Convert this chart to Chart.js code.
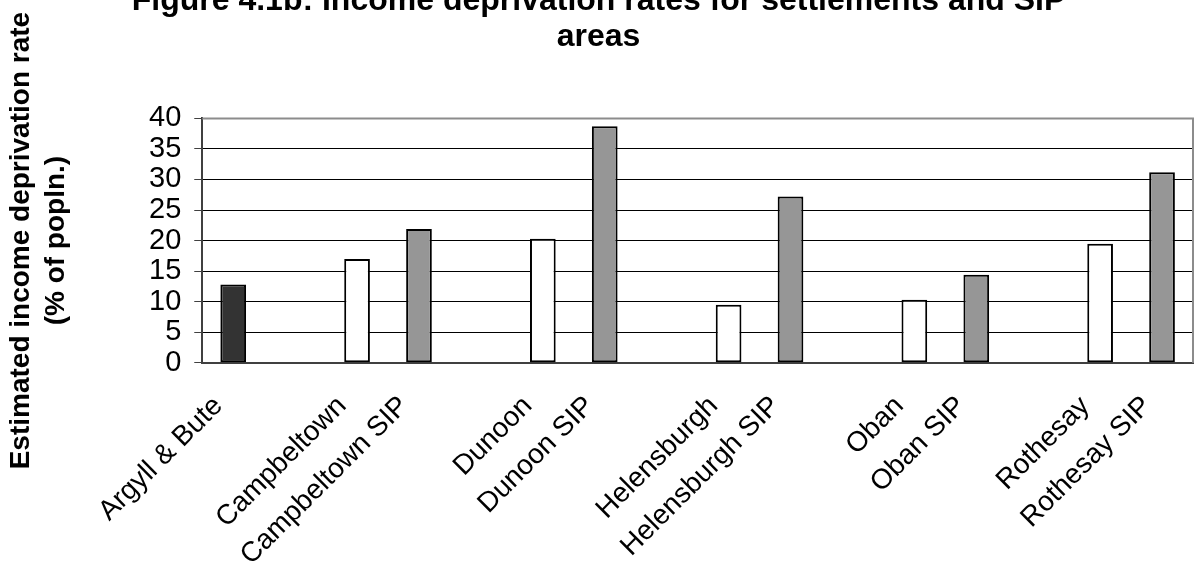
<!DOCTYPE html>
<html>
<head>
<meta charset="utf-8">
<script src="https://cdn.jsdelivr.net/npm/chart.js@4.4.1/dist/chart.umd.min.js"></script>
<style>
  html, body { margin: 0; padding: 0; background: #ffffff; }
  #chart { display: block; }
</style>
</head>
<body>
<canvas id="chart" width="1194" height="565"></canvas>
<script>
// Categories along the x axis; empty entries leave a gap between settlement pairs.
const categories = [
  'Argyll & Bute', '',
  'Campbeltown', 'Campbeltown SIP', '',
  'Dunoon', 'Dunoon SIP', '',
  'Helensburgh', 'Helensburgh SIP', '',
  'Oban', 'Oban SIP', '',
  'Rothesay', 'Rothesay SIP'
];

// Estimated income deprivation rate (% of population), aligned with categories.
const councilRate = [12.8, null, null, null, null, null, null, null, null, null, null, null, null, null, null, null];
const settlementRate = [null, null, 17.0, null, null, 20.3, null, null, 9.5, null, null, 10.3, null, null, 19.5, null];
const sipRate = [null, null, null, 21.9, null, null, 38.7, null, null, 27.2, null, null, 14.4, null, null, 31.2];

const yMin = 0;
const yMax = 40;
const yStep = 5;

const titleLines = ['Figure 4.1b: Income deprivation rates for settlements and SIP', 'areas'];
const yTitleLines = ['Estimated income deprivation rate', '(% of popln.)'];

// Grey frame on the top and right of the plot area.
const plotFrame = {
  id: 'plotFrame',
  beforeDatasetsDraw(chart) {
    const { ctx, chartArea: a } = chart;
    ctx.save();
    ctx.strokeStyle = '#8c8c8c';
    ctx.lineWidth = 2;
    ctx.beginPath();
    ctx.moveTo(a.left, a.top);
    ctx.lineTo(a.right, a.top);
    ctx.lineTo(a.right, a.bottom);
    ctx.stroke();
    ctx.restore();
  }
};

const barStyle = {
  borderColor: '#000000',
  borderWidth: 2,
  borderSkipped: false,
  grouped: false,
  skipNull: true,
  barPercentage: 0.415,
  categoryPercentage: 1.0
};

new Chart(document.getElementById('chart'), {
  type: 'bar',
  data: {
    labels: categories,
    datasets: [
      Object.assign({ label: 'Argyll & Bute', data: councilRate, backgroundColor: '#333333' }, barStyle),
      Object.assign({ label: 'Settlement', data: settlementRate, backgroundColor: '#ffffff' }, barStyle),
      Object.assign({ label: 'SIP area', data: sipRate, backgroundColor: '#969696' }, barStyle)
    ]
  },
  options: {
    responsive: false,
    animation: false,
    devicePixelRatio: 1,
    layout: { padding: { left: 4, right: 1, top: 0, bottom: -8 } },
    plugins: {
      legend: { display: false },
      tooltip: { enabled: false },
      title: {
        display: true,
        text: titleLines,
        color: '#000000',
        font: { family: '"Liberation Sans Narrow", "Liberation Sans", Arial, sans-serif', size: 32, weight: 'bold', lineHeight: 1.1 },
        padding: { top: -16, bottom: 64 }
      }
    },
    scales: {
      x: {
        grid: { display: false, drawTicks: true, tickLength: 26 },
        border: { display: true, color: '#404040', width: 2 },
        ticks: {
          autoSkip: false,
          maxRotation: 45,
          minRotation: 45,
          color: '#000000',
          padding: 1,
          labelOffset: -15,
          font: { family: '"Liberation Sans", Arial, sans-serif', size: 28 }
        }
      },
      y: {
        min: yMin,
        max: yMax,
        grid: {
          color: (c) => (c.tick && c.tick.value === yMax ? '#8c8c8c' : '#000000'),
          lineWidth: 1,
          tickLength: 8,
          tickColor: '#404040'
        },
        border: { display: true, color: '#404040', width: 2 },
        ticks: {
          stepSize: yStep,
          autoSkip: false,
          color: '#000000',
          padding: 13,
          font: { family: '"Liberation Sans", Arial, sans-serif', size: 29 }
        },
        title: {
          display: true,
          text: yTitleLines,
          color: '#000000',
          font: { family: '"Liberation Sans", Arial, sans-serif', size: 28, weight: 'bold', lineHeight: 1.25 },
          padding: { top: 0, bottom: 62 }
        }
      }
    }
  },
  plugins: [plotFrame]
});
</script>
</body>
</html>
